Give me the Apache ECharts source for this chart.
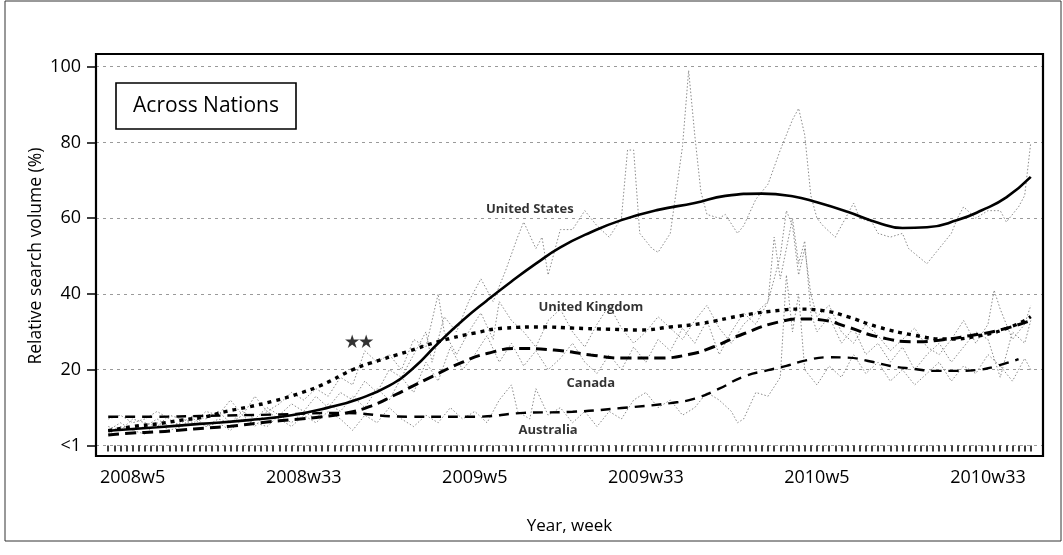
<!DOCTYPE html>
<html>
<head>
<meta charset="utf-8">
<script src="https://cdn.jsdelivr.net/npm/echarts@6/dist/echarts.min.js"></script>
<style>
  html, body { margin: 0; padding: 0; background: #fff; }
  #chart { width: 1063px; height: 555px; }
</style>
</head>
<body>
<div id="chart"></div>
<script>
// weeks counted from 2008w1 (index 0); two empty weeks of padding on each side
const weekCount = 152;
const pad = 2;
const tickIndex = [4, 32, 60, 88, 116, 144];
const tickLabels = ['2008w5', '2008w33', '2009w5', '2009w33', '2010w5', '2010w33'];
const yTicks = [0, 20, 40, 60, 80, 100];
const yTickLabels = ['<1', '20', '40', '60', '80', '100'];

// smoothed trends [week, value]
const usTrend = [[0,3.9],[8,4.8],[15,5.7],[23,6.7],[30,8],[36,10],[41,12.3],[46,15.8],[50,20.5],[54,27],[58,33],[62,38.3],[66,43.3],[70,48],[74,52.3],[79,56.3],[84,59.5],[90,62.2],[96,64],[101,65.9],[107,66.5],[112,65.8],[116,64.2],[121,61.7],[126,58.8],[130,57.4],[134,57.6],[139,59.5],[143,62.1],[147,65.5],[151,70.9]];
const ukTrend = [[0,3.9],[4,5],[8,5.7],[12,6.7],[16,7.6],[19,8.9],[23,10.2],[27,11.7],[31,13.6],[35,16],[40,20],[43,21.8],[49,24.8],[54,27.4],[60,29.7],[65,31],[71,31.3],[76,31],[82,30.7],[87,30.5],[92,31.3],[97,32.2],[104,34.4],[110,35.7],[113,36],[117,35.6],[121,34],[126,31.3],[132,29.1],[137,28.1],[143,29.1],[148,31.5],[151,34]];
const caTrend = [[0,2.8],[4,3.3],[8,3.6],[12,4.1],[16,4.6],[20,5.1],[26,6.2],[30,6.8],[35,7.6],[39,8.6],[43,10.4],[47,13.4],[50,15.8],[53,18.2],[58,22],[62,24.3],[67,25.6],[73,25.2],[79,23.9],[84,23.1],[90,23.1],[95,24],[99,26],[104,29.5],[110,32.7],[114,33.4],[117,33.1],[121,31.3],[126,28.7],[132,27.4],[136,27.8],[141,29],[146,30.5],[151,33]];
const auTrend = [[0,7.6],[8,7.6],[15,7.8],[28,8.2],[38,8.6],[49,7.6],[60,7.6],[68,8.6],[76,8.9],[84,9.9],[92,11.2],[96,12.4],[100,15],[104,18.2],[108,19.9],[111,21],[114,22.4],[118,23.3],[121,23.2],[125,22.1],[128,21],[132,20.2],[135,19.7],[139,19.7],[142,19.9],[145,20.8],[149,22.8]];

// weekly raw search volume [week, value]
const usRaw = [[0,4],[2,6],[4,4],[6,5],[8,7],[10,5],[12,6],[14,8],[16,5],[18,7],[20,6],[22,9],[24,7],[26,10],[28,8],[30,11],[32,9],[34,13],[36,10],[38,14],[40,12],[42,17],[44,14],[46,20],[48,18],[50,24],[52,30],[53,22],[55,34],[57,30],[59,38],[61,44],[63,38],[65,46],[67,55],[68,59],[70,52],[71,55],[72,45],[74,57],[76,57],[78,62],[80,58],[82,55],[84,60],[85,78],[86,78],[87,56],[89,52],[90,51],[92,56],[94,79],[95,99],[96,82],[97,67],[98,61],[100,60],[101,61],[103,56],[104,58],[106,65],[108,69],[110,78],[112,86],[113,89],[114,82],[115,66],[116,60],[117,58],[119,55],[121,61],[122,64],[123,60],[125,59],[126,56],[128,55],[130,56],[131,52],[134,48],[136,52],[138,56],[139,60],[140,63],[142,60],[144,62],[146,62],[147,59],[149,63],[150,66],[151,80]];
const ukRaw = [[0,5],[2,4],[4,7],[6,6],[8,5],[10,8],[12,7],[14,6],[16,9],[18,8],[20,12],[22,8],[24,13],[26,9],[28,11],[30,14],[32,12],[34,15],[36,13],[38,18],[40,16],[42,25],[44,22],[46,24],[48,20],[50,28],[52,26],[54,40],[55,30],[57,24],[59,30],[61,35],[63,28],[64,38],[66,33],[68,30],[70,26],[72,33],[74,36],[76,30],[78,26],[80,32],[82,37],[84,31],[86,27],[88,30],[90,34],[92,31],[94,28],[96,33],[98,37],[100,31],[102,27],[104,32],[106,35],[108,38],[110,50],[111,62],[112,58],[113,45],[114,52],[115,40],[116,34],[118,37],[120,30],[122,27],[124,32],[126,29],[128,25],[130,28],[132,31],[134,26],[136,24],[138,28],[140,33],[142,27],[144,32],[145,41],[146,36],[148,28],[150,32],[151,37]];
const caRaw = [[0,3],[2,5],[4,4],[6,3],[8,6],[10,4],[12,5],[14,7],[16,5],[18,6],[20,4],[22,7],[24,6],[26,5],[28,8],[30,6],[32,9],[34,7],[36,11],[38,9],[40,13],[42,10],[44,15],[46,12],[48,18],[50,14],[52,22],[54,17],[56,26],[58,20],[60,24],[62,29],[64,22],[66,27],[68,21],[70,25],[72,20],[74,23],[76,27],[78,22],[80,19],[82,24],[84,20],[86,26],[88,22],[90,28],[92,25],[94,31],[96,27],[98,33],[100,24],[102,30],[104,35],[106,32],[108,38],[109,55],[110,44],[112,60],[113,48],[114,54],[115,35],[116,30],[118,34],[120,27],[122,31],[124,24],[126,27],[128,22],[130,26],[132,20],[134,24],[136,27],[138,22],[140,26],[142,30],[144,28],[146,18],[148,30],[150,27],[151,33]];
const auRaw = [[0,7],[2,8],[4,6],[6,7],[8,9],[10,7],[12,5],[14,8],[16,7],[18,9],[20,6],[22,8],[24,5],[26,9],[28,7],[30,5],[32,8],[34,6],[36,9],[38,7],[40,4],[42,8],[44,6],[46,10],[48,7],[50,5],[52,8],[54,6],[56,10],[58,7],[60,9],[62,6],[64,12],[66,16],[67,9],[69,7],[70,15],[72,8],[74,10],[76,6],[78,9],[80,5],[82,9],[84,7],[86,12],[88,14],[90,10],[92,12],[94,8],[96,10],[98,14],[100,12],[102,9],[103,6],[104,7],[106,14],[108,13],[110,18],[111,45],[112,30],[113,40],[114,20],[116,16],[118,21],[120,18],[122,24],[124,19],[126,22],[128,17],[130,20],[132,16],[134,19],[136,22],[138,17],[140,21],[142,19],[144,24],[146,21],[148,17],[150,23],[151,20]];

// text placed in the plot [week, value, text]
const plotNotes = [[69.4, 62.4, 'United States'], [78.9, 36.6, 'United Kingdom'], [79.4, 16.5, 'Canada'], [72.1, 4.1, 'Australia']];
const starNote = [[40.9, 27.3, '★★']];

const FONT = '"Open Sans", "Noto Sans", sans-serif';

const categories = [];
for (let i = -pad; i < weekCount + pad; i++) categories.push(String(i));
const shift = (arr) => arr.map(p => [p[0] + pad, p[1]]);
const isTick = (idx) => tickIndex.indexOf(idx - pad) >= 0;

const rawSeries = (name, data) => ({
  name, type: 'line', data: shift(data), symbol: 'none', z: 2,
  lineStyle: { color: '#8a8a8a', width: 1, type: [1.5, 2] }
});
const trendSeries = (name, data, width, dash) => ({
  name, type: 'line', data: shift(data), symbol: 'none', smooth: 0.5, z: 3,
  lineStyle: { color: '#000', width, type: dash, cap: 'butt' }
});
const noteSeries = (name, data, size) => ({
  name, type: 'scatter', symbolSize: 0, z: 5,
  data: data.map(n => [n[0] + pad, n[1], n[2]]),
  label: {
    show: true, position: 'inside',
    formatter: (p) => p.data[2],
    fontFamily: FONT, fontWeight: 'bold', fontSize: size, color: '#000'
  }
});

const chart = echarts.init(document.getElementById('chart'));
chart.setOption({
  animation: false,
  backgroundColor: '#fff',
  grid: { left: 96, right: 20, top: 66.7, bottom: 109.5 },
  xAxis: {
    type: 'category',
    data: categories,
    boundaryGap: false,
    offset: 10.5,
    name: 'Year, week',
    nameLocation: 'middle',
    nameGap: 62,
    nameTextStyle: { fontFamily: FONT, fontSize: 17, color: '#000' },
    axisLine: { show: false },
    axisTick: {
      show: true, length: 6, inside: false,
      interval: (idx) => idx >= pad && idx < weekCount + pad,
      lineStyle: { color: '#000', width: 1.5 }
    },
    axisLabel: {
      interval: (idx) => isTick(idx),
      formatter: (v, idx) => tickLabels[tickIndex.indexOf(idx - pad)] || '',
      margin: 13,
      fontFamily: FONT, fontSize: 18, color: '#000'
    },
    splitLine: { show: false }
  },
  yAxis: {
    type: 'value',
    min: 0, max: 100, interval: 20,
    name: 'Relative search volume (%)',
    nameLocation: 'middle',
    nameRotate: 90,
    nameGap: 51,
    nameMoveOverlap: false,
    nameTextStyle: { fontFamily: FONT, fontSize: 17.5, color: '#000' },
    axisLine: { show: false },
    axisTick: { show: true, length: 9, lineStyle: { color: '#000', width: 1.5 } },
    axisLabel: {
      margin: 15,
      formatter: (v) => yTickLabels[yTicks.indexOf(v)],
      fontFamily: FONT, fontSize: 18, color: '#000'
    },
    splitLine: { show: true, lineStyle: { color: '#9a9a9a', width: 1, type: [3, 4] } }
  },
  graphic: [
    { type: 'rect', shape: { x: 5, y: 1, width: 1056, height: 540 }, style: { fill: null, stroke: '#333', lineWidth: 1 }, silent: true },
    { type: 'rect', shape: { x: 96, y: 54, width: 947, height: 402 }, style: { fill: null, stroke: '#000', lineWidth: 2.2 }, z: 10, silent: true },
    { type: 'rect', shape: { x: 116, y: 83, width: 180, height: 46 }, style: { fill: '#fff', stroke: '#000', lineWidth: 1.6 }, z: 10, silent: true },
    { type: 'text', x: 206, y: 106, style: { text: 'Across Nations', font: '21px ' + FONT, fill: '#000', textAlign: 'center', textVerticalAlign: 'middle' }, z: 11, silent: true }
  ],
  series: [
    rawSeries('United States weekly', usRaw),
    rawSeries('United Kingdom weekly', ukRaw),
    rawSeries('Canada weekly', caRaw),
    rawSeries('Australia weekly', auRaw),
    trendSeries('Australia', auTrend, 2.4, [10, 7]),
    trendSeries('Canada', caTrend, 3, [11, 6]),
    trendSeries('United Kingdom', ukTrend, 3.4, [4, 5]),
    trendSeries('United States', usTrend, 2.6, 'solid'),
    noteSeries('notes', plotNotes, 13),
    noteSeries('stars', starNote, 16)
  ]
});
window.addEventListener('resize', () => chart.resize());
</script>
</body>
</html>
